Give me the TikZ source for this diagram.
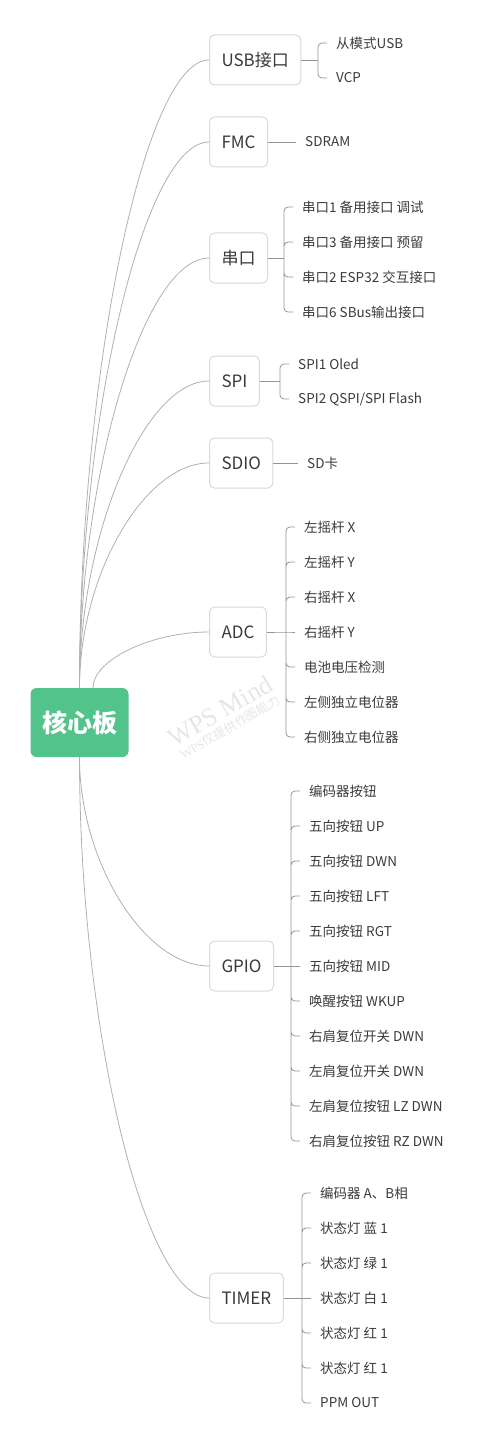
\documentclass[tikz,border=0pt]{standalone}
\usepackage{fontspec}
\setmainfont{Noto Sans CJK SC}
\newfontfamily\wmfont{Liberation Serif}
\usepackage{xcolor}
\usetikzlibrary{calc}
\definecolor{rootgreen}{HTML}{52C48B}
\definecolor{boxline}{HTML}{D9D9D9}
\definecolor{textgray}{HTML}{3A3A3A}
\definecolor{curvegray}{HTML}{B0B0B0}
\definecolor{bracketgray}{HTML}{959595}
\definecolor{wmgray}{HTML}{E6E6E6}
\tikzset{
    root/.style={
        fill=rootgreen,
        rounded corners=6pt,
        text=white,
        minimum width=98pt,
        minimum height=69pt,
        font=\fontsize{25}{30}\selectfont\bfseries
    },
    topic/.style={
        draw=boxline,
        line width=1pt,
        fill=white,
        rounded corners=5pt,
        anchor=west,
        minimum height=50pt,
        inner xsep=12pt,
        text=textgray,
        font=\fontsize{17}{20}\selectfont
    },
    leaf/.style={
        anchor=west,
        inner xsep=9pt,
        inner ysep=2pt,
        text=textgray,
        font=\fontsize{13.5}{16}\selectfont
    },
    watermark/.style={
        text=wmgray,
        rotate=30,
        inner sep=0pt
    },
    curve/.style={draw=curvegray, line width=0.8pt},
    bracket/.style={draw=bracketgray, line width=0.8pt, rounded corners=4pt},
    branch/.style={
        to path={.. controls ($(\tikztostart)!0.5!(\tikztostart|-\tikztotarget)$)
            and ($(\tikztotarget)!0.5!(\tikztostart|-\tikztotarget)$) .. (\tikztotarget)}
    }
}

\begin{document}
\begin{tikzpicture}[x=1pt, y=-1pt]
    \useasboundingbox (0,0) rectangle (482,1447);

    % Watermark
    \node[watermark, font=\wmfont\fontsize{26}{30}\selectfont] (wm1) at (220,711) {WPS Mind};
    \node[watermark, font=\fontsize{12.5}{14}\selectfont] (wm2) at (230,727) {{\wmfont WPS}仅提供作图能力};

    % Root
    \node[root] (core) at (79.5,722.5) {核心板};

    % Topics
    \node[topic] (usb) at (209,60) {USB接口};
    \node[topic] (fmc) at (209,142) {FMC};
    \node[topic] (uart) at (209,258) {串口};
    \node[topic] (spi) at (209,381) {SPI};
    \node[topic] (sdio) at (209,463) {SDIO};
    \node[topic] (adc) at (209,632) {ADC};
    \node[topic] (gpio) at (209,966) {GPIO};
    \node[topic] (timer) at (209,1298) {TIMER};

    % Curves from the root
    \draw[curve] (core.north) to[branch] (usb.west);
    \draw[curve] (core.north) to[branch] (fmc.west);
    \draw[curve] (core.north) to[branch] (uart.west);
    \draw[curve] (core.north) to[branch] (spi.west);
    \draw[curve] (core.north) to[branch] (sdio.west);
    \draw[curve] ([xshift=13.5pt]core.north) to[branch] (adc.west);
    \draw[curve] (core.south) to[branch] (gpio.west);
    \draw[curve] (core.south) to[branch] (timer.west);

    % Junctions
    \coordinate (usbj) at (318,60);
    \coordinate (uartj) at (284,258);
    \coordinate (spij) at (280,381);
    \coordinate (adcj) at (286,632);
    \coordinate (gpioj) at (291,966);
    \coordinate (timerj) at (302,1298);

    % USB leaves
    \node[leaf] (usb1) at (327,43) {从模式USB};
    \node[leaf] (usb2) at (327,78) {VCP};
    \draw[bracket] (usb.east) -- (usbj);
    \draw[bracket] (usbj) |- (usb1.west) (usbj) |- (usb2.west);

    % FMC leaf
    \node[leaf] (fmc1) at (296,142) {SDRAM};
    \draw[bracket] (fmc.east) -- (fmc1.west);

    % UART leaves
    \node[leaf] (uart1) at (293,207) {串口1 备用接口 调试};
    \node[leaf] (uart2) at (293,242) {串口3 备用接口 预留};
    \node[leaf] (uart3) at (293,277) {串口2 ESP32 交互接口};
    \node[leaf] (uart4) at (293,312) {串口6 SBus输出接口};
    \draw[bracket] (uart.east) -- (uartj);
    \draw[bracket] (uartj) |- (uart1.west) (uartj) |- (uart2.west)
        (uartj) |- (uart3.west) (uartj) |- (uart4.west);

    % SPI leaves
    \node[leaf] (spi1) at (289,364) {SPI1 Oled};
    \node[leaf] (spi2) at (289,399) {SPI2 QSPI/SPI Flash};
    \draw[bracket] (spi.east) -- (spij);
    \draw[bracket] (spij) |- (spi1.west) (spij) |- (spi2.west);

    % SDIO leaf
    \node[leaf] (sdio1) at (298,463) {SD卡};
    \draw[bracket] (sdio.east) -- (sdio1.west);

    % ADC leaves
    \node[leaf] (adc1) at (295,527) {左摇杆 X};
    \node[leaf] (adc2) at (295,562) {左摇杆 Y};
    \node[leaf] (adc3) at (295,597) {右摇杆 X};
    \node[leaf] (adc4) at (295,632) {右摇杆 Y};
    \node[leaf] (adc5) at (295,667) {电池电压检测};
    \node[leaf] (adc6) at (295,702) {左侧独立电位器};
    \node[leaf] (adc7) at (295,737) {右侧独立电位器};
    \draw[bracket] (adc.east) -- (adcj) -- (adc4.west);
    \draw[bracket] (adcj) |- (adc1.west) (adcj) |- (adc2.west) (adcj) |- (adc3.west)
        (adcj) |- (adc5.west) (adcj) |- (adc6.west) (adcj) |- (adc7.west);

    % GPIO leaves
    \node[leaf] (gpio1) at (300,791) {编码器按钮};
    \node[leaf] (gpio2) at (300,826) {五向按钮 UP};
    \node[leaf] (gpio3) at (300,861) {五向按钮 DWN};
    \node[leaf] (gpio4) at (300,896) {五向按钮 LFT};
    \node[leaf] (gpio5) at (300,931) {五向按钮 RGT};
    \node[leaf] (gpio6) at (300,966) {五向按钮 MID};
    \node[leaf] (gpio7) at (300,1001) {唤醒按钮 WKUP};
    \node[leaf] (gpio8) at (300,1036) {右肩复位开关 DWN};
    \node[leaf] (gpio9) at (300,1071) {左肩复位开关 DWN};
    \node[leaf] (gpio10) at (300,1106) {左肩复位按钮 LZ DWN};
    \node[leaf] (gpio11) at (300,1141) {右肩复位按钮 RZ DWN};
    \draw[bracket] (gpio.east) -- (gpioj) -- (gpio6.west);
    \draw[bracket] (gpioj) |- (gpio1.west) (gpioj) |- (gpio2.west) (gpioj) |- (gpio3.west)
        (gpioj) |- (gpio4.west) (gpioj) |- (gpio5.west) (gpioj) |- (gpio7.west)
        (gpioj) |- (gpio8.west) (gpioj) |- (gpio9.west) (gpioj) |- (gpio10.west)
        (gpioj) |- (gpio11.west);

    % TIMER leaves
    \node[leaf] (timer1) at (311,1193) {编码器 A、B相};
    \node[leaf] (timer2) at (311,1228) {状态灯 蓝 1};
    \node[leaf] (timer3) at (311,1263) {状态灯 绿 1};
    \node[leaf] (timer4) at (311,1298) {状态灯 白 1};
    \node[leaf] (timer5) at (311,1333) {状态灯 红 1};
    \node[leaf] (timer6) at (311,1368) {状态灯 红 1};
    \node[leaf] (timer7) at (311,1403) {PPM OUT};
    \draw[bracket] (timer.east) -- (timerj) -- (timer4.west);
    \draw[bracket] (timerj) |- (timer1.west) (timerj) |- (timer2.west) (timerj) |- (timer3.west)
        (timerj) |- (timer5.west) (timerj) |- (timer6.west) (timerj) |- (timer7.west);
\end{tikzpicture}
\end{document}
